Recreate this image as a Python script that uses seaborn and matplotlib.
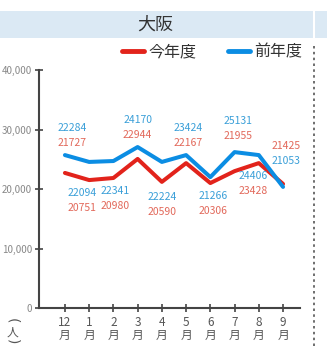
import matplotlib
matplotlib.use('Agg')
import matplotlib.pyplot as plt
import seaborn as sns
import pandas as pd
from matplotlib.patches import Rectangle
from matplotlib.lines import Line2D
from matplotlib.ticker import FuncFormatter

# data
months = ['12', '1', '2', '3', '4', '5', '6', '7', '8', '9']
# line heights as drawn
this_year_line = [22700, 21500, 21850, 25050, 21200, 24350, 21000, 23000, 24350, 20850]
last_year_line = [25700, 24550, 24700, 27050, 24550, 25700, 22000, 26200, 25700, 20350]
# printed values
this_year_vals = [21727, 20751, 20980, 22944, 20590, 22167, 20306, 21955, 23428, 21425]
last_year_vals = [22284, 22094, 22341, 24170, 22224, 23424, 21266, 25131, 24406, 21053]

# label layout (pixels)
label_side = ['top', 'bottom', 'bottom', 'top', 'bottom', 'top', 'bottom', 'top', 'bottom', 'top']
label_dx = [7, -7, 2, 0, 0, 2, 3, 3, -6, 3]
label_dy = [0, 0, 0, 0, -2, 0, 0, 4, 0, 11]

RED = '#e2231b'
BLUE = '#0b8de3'
RED_TXT = '#e2685a'
BLUE_TXT = '#3a9fd8'

sns.set_style('white')
plt.rcParams['font.family'] = ['Noto Sans CJK JP', 'DejaVu Sans']

W, H = 327, 346
fig = plt.figure(figsize=(W / 100, H / 100), dpi=100)

# title bar
fig.patches.append(Rectangle((0, 1 - 38 / H), 1, 27 / H, transform=fig.transFigure,
                             facecolor='#dbe9f4', edgecolor='none', zorder=0))
fig.add_artist(Line2D([313.5 / W, 313.5 / W], [1 - 38 / H, 1], transform=fig.transFigure,
                      color='white', lw=1.5))
fig.text(155 / W, 1 - 25 / H, '大阪', ha='center', va='center', fontsize=13, color='#333333')

# dotted separator
fig.add_artist(Line2D([313.5 / W, 313.5 / W], [0, 1 - 44 / H], transform=fig.transFigure,
                      color='#555555', lw=1.2, ls=(0, (1.5, 2))))

ax = fig.add_axes([39 / W, 38 / H, (300 - 39) / W, (308 - 70) / H])

df = pd.DataFrame({
    'month': list(range(len(months))) * 2,
    'value': this_year_line + last_year_line,
    'series': ['今年度'] * len(months) + ['前年度'] * len(months),
})
sns.lineplot(data=df, x='month', y='value', hue='series',
             palette={'今年度': RED, '前年度': BLUE}, linewidth=2.9, ax=ax, legend=False)

# value labels
for i in range(len(months)):
    pair = sorted([(last_year_vals[i], BLUE_TXT), (this_year_vals[i], RED_TXT)], reverse=True)
    if label_side[i] == 'top':
        anchor = max(this_year_line[i], last_year_line[i])
        offsets = [27, 12]
    else:
        anchor = min(this_year_line[i], last_year_line[i])
        offsets = [-13, -28]
    for (val, col), off in zip(pair, offsets):
        ax.annotate(str(val), (i, anchor), xytext=(label_dx[i], off + label_dy[i]),
                    textcoords='offset pixels', ha='center', va='center',
                    fontsize=7.5, color=col)

ax.set_xlim(-1.07, 9.7)
ax.set_ylim(0, 40000)
ax.set_xticks(range(len(months)))
ax.set_xticklabels([m + '\n月' for m in months], fontsize=8.5, color='#555555', linespacing=0.95)
ax.set_yticks([0, 10000, 20000, 30000, 40000])
ax.yaxis.set_major_formatter(FuncFormatter(lambda v, p: f'{int(v):,}'))
ax.tick_params(axis='y', direction='inout', length=6, width=1.2, color='#444444',
               labelsize=7, labelcolor='#888888', pad=2, left=True)
ax.tick_params(axis='x', direction='inout', length=6, width=1.2, color='#444444',
               pad=3, bottom=True)
ax.set_xlabel('')
ax.set_ylabel('')
for s in ['top', 'right']:
    ax.spines[s].set_visible(False)
for s in ['left', 'bottom']:
    ax.spines[s].set_color('#444444')
    ax.spines[s].set_linewidth(1.5)

# unit label (vertical "（人）")
fig.text(12 / W, 1 - 321 / H, '(', ha='center', va='center', fontsize=10,
         color='#555555', rotation=270, family='DejaVu Sans')
fig.text(12 / W, 1 - 332 / H, '人', ha='center', va='center', fontsize=8.5, color='#555555')
fig.text(12 / W, 1 - 342 / H, ')', ha='center', va='center', fontsize=10,
         color='#555555', rotation=270, family='DejaVu Sans')

# legend
handles = [Line2D([], [], color=RED, lw=3.5), Line2D([], [], color=BLUE, lw=3.5)]
fig.legend(handles, ['今年度', '前年度'], loc='center', ncol=2, frameon=False,
           bbox_to_anchor=(212 / W, 1 - 52 / H), fontsize=11.5, handlelength=1.4,
           handletextpad=0.25, columnspacing=2.0, borderpad=0, labelcolor='#333333')

fig.savefig('out.png', dpi=100)
